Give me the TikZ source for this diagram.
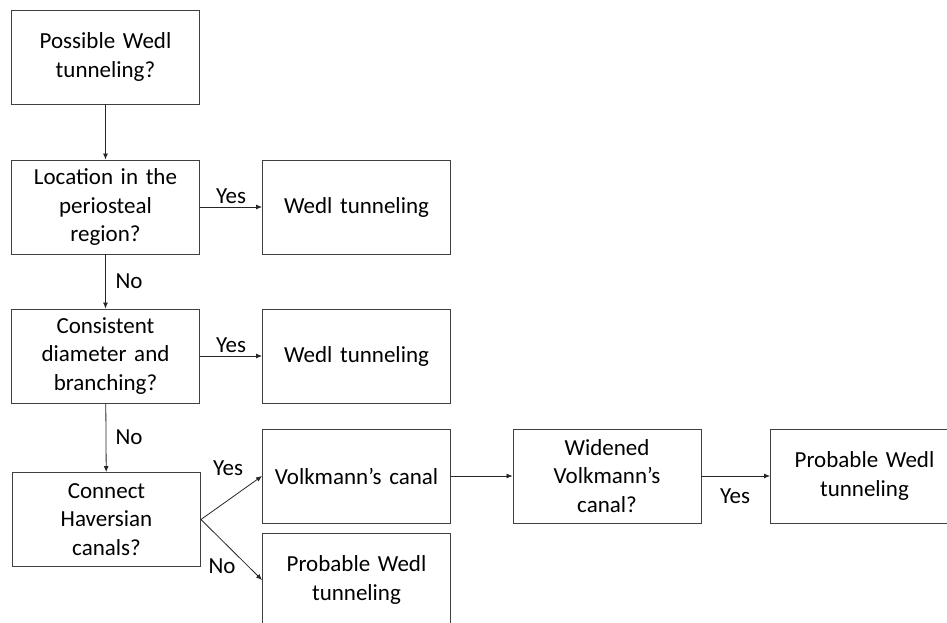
\documentclass[tikz,border=0pt]{standalone}
\usepackage{fontspec}
\setmainfont{Carlito}[WordSpace=0.55]
\usetikzlibrary{arrows.meta}
\tikzset{
  box/.style={draw=black!75, line width=0.9pt, minimum width=188pt, minimum height=94pt,
    inner sep=0pt, align=center, text width=184pt,
    font=\fontsize{23}{28.5}\selectfont},
  lbl/.style={inner sep=0pt, font=\fontsize{23}{28.5}\selectfont},
  arr/.style={draw=black!85, line width=0.8pt, -{Latex[length=6pt,width=5pt]}},
}
\begin{document}
\begin{tikzpicture}[x=1pt,y=-1pt]
\useasboundingbox (0,0) rectangle (947,622);
\clip (0,0) rectangle (947,622);
\node[box] (b1) at (105.5,57) {Possible Wedl\\tunneling?};
\node[box] (b2) at (105.5,207) {Location in the\\periosteal\\region?};
\node[box] (b3) at (105.5,356) {Consistent\\diameter and\\branching?};
\node[box] (b4) at (106.5,519.5) {Connect\\Haversian\\canals?};
\node[box] (w1) at (356.5,207) {Wedl tunneling};
\node[box] (w2) at (356.5,356) {Wedl tunneling};
\node[box] (v) at (356.5,476) {Volkmann’s canal};
\node[box] (p1) at (356.5,580) {Probable Wedl\\tunneling};
\node[box] (wid) at (607,476) {Widened\\Volkmann’s\\canal?};
\node[box] (p2) at (864.5,476) {Probable Wedl\\tunneling};

\draw[arr] (b1) -- (b2);
\draw[arr] (b2) -- (b3);
\draw[arr] (b3) -- (b4);
\draw[arr] (b2) -- (w1);
\draw[arr] (b3) -- (w2);
\draw[arr] (b4.east) -- (v.west);
\draw[arr] (b4.east) -- (p1.west);
\draw[arr] (v) -- (wid);
\draw[arr] (wid) -- (p2);

\node[lbl] (l1) at (231,196) {Yes};
\node[lbl] (l2) at (129,281) {No};
\node[lbl] (l3) at (231,345) {Yes};
\node[lbl] (l4) at (129,437) {No};
\node[lbl] (l5) at (228,468) {Yes};
\node[lbl] (l6) at (222,566) {No};
\node[lbl] (l7) at (735,496) {Yes};
\end{tikzpicture}
\end{document}
